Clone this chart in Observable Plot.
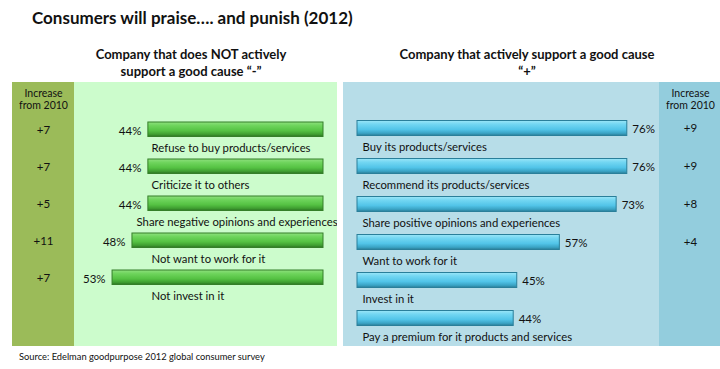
<!DOCTYPE html>
<html><head><meta charset="utf-8">
<script src="https://cdn.jsdelivr.net/npm/d3@7"></script>
<script src="https://cdn.jsdelivr.net/npm/@observablehq/plot@0.6"></script>
<style>
body{margin:0;background:#fff;}
#wrap{position:relative;width:720px;height:369px;font-family:Lato,"Open Sans",sans-serif;color:#111;overflow:hidden;}
.title{position:absolute;left:32px;top:7px;font-weight:bold;font-size:17px;white-space:nowrap;}
.sub{position:absolute;top:46px;font-weight:bold;font-size:13px;text-align:center;line-height:17px;white-space:nowrap;}
#left{position:absolute;left:12px;top:82px;}
#right{position:absolute;left:343px;top:82px;}
.src{position:absolute;left:19px;top:351px;font-size:9.3px;white-space:nowrap;}
</style></head><body>
<div id="wrap">
  <div class="title">Consumers will praise…. and punish (2012)</div>
  <div class="sub" style="left:71px;width:240px;">Company that does NOT actively<br>support a good cause “-”</div>
  <div class="sub" style="left:387px;width:280px;">Company that actively support a good cause<br>“+”</div>
  <div id="left"></div>
  <div id="right"></div>
  <div class="src">Source: Edelman goodpurpose 2012 global consumer survey</div>
</div>
<script>
const leftLabels = ["Refuse to buy products/services","Criticize it to others","Share negative opinions and experiences","Not want to work for it","Not invest in it"];
const leftValues = [44, 44, 44, 48, 53];
const leftIncrease = [7, 7, 5, 11, 7];

const rightLabels = ["Buy its products/services","Recommend its products/services","Share positive opinions and experiences","Want to work for it","Invest in it","Pay a premium for it products and services"];
const rightValues = [76, 76, 73, 57, 45, 44];
const rightIncrease = [9, 9, 8, 4, null, null];

const increaseHeader = "Increase\nfrom 2010";

const leftData = leftLabels.map((label, i) => ({label, value: leftValues[i], inc: leftIncrease[i]}));
const rightData = rightLabels.map((label, i) => ({label, value: rightValues[i], inc: rightIncrease[i]}));

function gradDefs(id, stops) {
  return () => {
    const d = d3.create("svg:defs");
    const g = d.append("linearGradient").attr("id", id).attr("x1", 0).attr("x2", 0).attr("y1", 0).attr("y2", 1);
    stops.forEach(([o, c]) => g.append("stop").attr("offset", o).attr("stop-color", c));
    return d.node();
  };
}

// keep long labels inside the panel: estimate label width from its length
const labelStart = (label) => Math.max(43.2, (label.length * 5.05 - 10) / 3.98);

const font = "Lato, 'Open Sans', sans-serif";

const leftPlot = Plot.plot({
  width: 325, height: 264, margin: 0,
  style: {background: "linear-gradient(to right, #9bbb59 0px, #9bbb59 62px, #ccfccc 62px)", fontFamily: font, fontSize: "11.3px", color: "#111"},
  x: {domain: [0, 100], range: [311, -87], axis: null},
  y: {domain: leftLabels, range: [27.75, 215.25], padding: 0, axis: null},
  marks: [
    gradDefs("gradGreen", [["0%", "#8ee07e"], ["25%", "#6ed45c"], ["60%", "#55c243"], ["85%", "#3f9e31"], ["100%", "#2c7322"]]),
    Plot.barX(leftData, {x: "value", y: "label", fill: "url(#gradGreen)", stroke: "#357f29", strokeWidth: 1, insetTop: 11, insetBottom: 11.5}),
    Plot.text(leftData, {x: "value", y: "label", text: d => d.value + "%", textAnchor: "end", dx: -7, dy: 1, fontSize: 11.5}),
    Plot.text(leftData, {x: d => labelStart(d.label), y: "label", text: "label", textAnchor: "start", dy: 18}),
    Plot.text(leftData, {y: "label", text: d => "+" + d.inc, frameAnchor: "left", dx: 31, textAnchor: "middle", fontSize: 11.5}),
    Plot.text([increaseHeader], {text: d => d, frameAnchor: "top-left", dx: 31, dy: 6, textAnchor: "middle", lineAnchor: "top", lineHeight: 1.15, fontSize: 10.5})
  ]
});
document.getElementById("left").appendChild(leftPlot);

const rightPlot = Plot.plot({
  width: 377, height: 264, margin: 0,
  style: {background: "linear-gradient(to right, #b7dde8 0px, #b7dde8 316px, #93cddd 316px)", fontFamily: font, fontSize: "11.3px", color: "#111"},
  x: {domain: [0, 100], range: [14, 369], axis: null},
  y: {domain: rightLabels, range: [25.1, 257.9], padding: 0, axis: null},
  marks: [
    gradDefs("gradBlue", [["0%", "#9be6f8"], ["25%", "#72d6f2"], ["60%", "#52c4e8"], ["85%", "#3aa3c4"], ["100%", "#2a7c96"]]),
    Plot.barX(rightData, {x: "value", y: "label", fill: "url(#gradBlue)", stroke: "#2a7f9a", strokeWidth: 1, insetTop: 11.5, insetBottom: 11.5}),
    Plot.text(rightData, {x: "value", y: "label", text: d => d.value + "%", textAnchor: "start", dx: 5, dy: 1, fontSize: 11.5}),
    Plot.text(rightData, {x: 0, y: "label", text: "label", textAnchor: "start", dx: 5, dy: 19}),
    Plot.text(rightData.filter(d => d.inc != null), {y: "label", text: d => "+" + d.inc, frameAnchor: "right", dx: -30, textAnchor: "middle", fontSize: 11.5}),
    Plot.text([increaseHeader], {text: d => d, frameAnchor: "top-right", dx: -30, dy: 6, textAnchor: "middle", lineAnchor: "top", lineHeight: 1.15, fontSize: 10.5})
  ]
});
document.getElementById("right").appendChild(rightPlot);
</script>
</body></html>
